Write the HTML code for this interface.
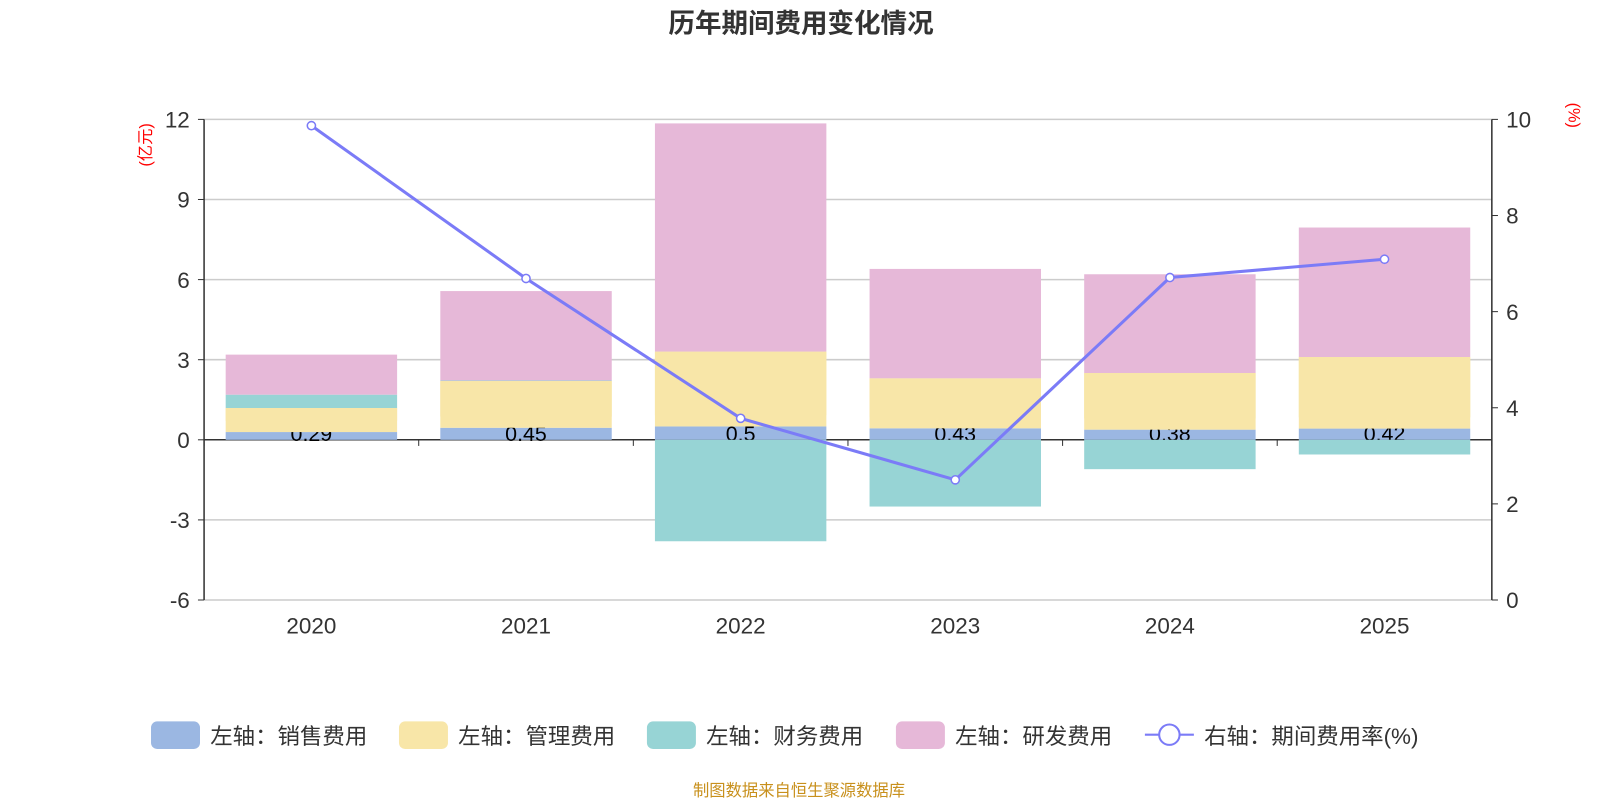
<!DOCTYPE html>
<html><head><meta charset="utf-8"><style>
body{margin:0;background:#fff;}
svg{display:block;font-family:"Liberation Sans","Noto Sans CJK SC",sans-serif;}
</style></head><body>
<svg id="c" width="1600" height="800" viewBox="0 0 1568 784" preserveAspectRatio="none"></svg>
<script>
const categories=["2020","2021","2022","2023","2024","2025"];
const sales=[0.29,0.45,0.5,0.43,0.38,0.42];
const mgmt=[0.9,1.75,2.8,1.87,2.12,2.68];
const finance=[0.5,0.02,-3.8,-2.5,-1.1,-0.55];
const rnd=[1.5,3.35,8.55,4.1,3.7,4.85];
const rate=[9.87,6.69,3.78,2.5,6.71,7.09];
const leftTicks=[-6,-3,0,3,6,9,12];
const rightTicks=[0,2,4,6,8,10];
const NS="http://www.w3.org/2000/svg";
const svg=document.getElementById('c');
const X0=200,X1=1462,YT=117,YB=588;
const yL=v=>YB-(v+6)/18*(YB-YT);
const yR=v=>YB-v/10*(YB-YT);
const bw=(X1-X0)/categories.length;
const xc=i=>X0+bw*(i+0.5);
function el(t,a,txt){const e=document.createElementNS(NS,t);for(const k in a)e.setAttribute(k,a[k]);if(txt!==undefined)e.textContent=txt;svg.appendChild(e);return e;}
let e;
e=el('text',{x:785,y:32,'text-anchor':'middle','font-size':26,'font-weight':'bold',fill:'#333'},'历年期间费用变化情况');

leftTicks.forEach(v=>{
 e=el('line',{x1:X0,x2:X1,y1:yL(v),y2:yL(v),stroke:v===0?'#333':'#ccc','stroke-width':1.5});
 
 e=el('text',{x:X0-14,y:yL(v)+8,'text-anchor':'end','font-size':22,fill:'#333'},String(v));
 
 el('line',{x1:X0-6,x2:X0,y1:yL(v),y2:yL(v),stroke:'#333'});
});
rightTicks.forEach(v=>{
 e=el('text',{x:X1+14,y:yR(v)+8,'font-size':22,fill:'#333'},String(v));
 
 el('line',{x1:X1,x2:X1+6,y1:yR(v),y2:yR(v),stroke:'#333'});
});
el('line',{x1:X0,x2:X0,y1:YT,y2:YB,stroke:'#333','stroke-width':1.5});
el('line',{x1:X1,x2:X1,y1:YT,y2:YB,stroke:'#333','stroke-width':1.5});
for(let i=0;i<=categories.length;i++)el('line',{x1:X0+bw*i,x2:X0+bw*i,y1:yL(0),y2:yL(0)+6,stroke:'#333'});
e=el('text',{x:0,y:0,transform:'translate(148,142) rotate(-90)','text-anchor':'middle','font-size':16,fill:'red'},'(亿元)');

e=el('text',{x:0,y:0,transform:'translate(1537,113) rotate(90)','text-anchor':'middle','font-size':16,fill:'red'},'(%)');

const BW=168;
categories.forEach((c,i)=>{
 e=el('text',{x:xc(i),y:621,'text-anchor':'middle','font-size':22,fill:'#333'},c);
 
 let pos=0,neg=0;
 const series=[[sales,'#9bb7e2','sales'],[mgmt,'#f8e6a8','management'],[finance,'#97d4d5','finance'],[rnd,'#e6b8d8','rnd']];
 series.forEach(([arr,col,nm],k)=>{
  const v=arr[i];let a,b;
  if(v>=0){a=pos;b=pos+v;pos=b;}else{a=neg;b=neg+v;neg=b;}
  const y1=yL(Math.max(a,b)),y2=yL(Math.min(a,b));
  e=el('rect',{x:xc(i)-BW/2,y:y1,width:BW,height:Math.max(0,y2-y1),fill:col});
  
  if(k===0){e=el('text',{x:xc(i),y:yL(0)+1,'text-anchor':'middle','font-size':21,fill:'#000'},String(sales[i]));
   }
 });
});
categories.forEach((c,i)=>{
 const y1=yL(sales[i]+mgmt[i]),y2=yL(sales[i]);
 el('rect',{x:xc(i)-BW/2,y:y1,width:BW,height:Math.max(0,y2-y1-11),fill:'#f8e6a8'});
});
e=el('polyline',{points:rate.map((v,i)=>xc(i)+','+yR(v)).join(' '),fill:'none',stroke:'#7b7bf7','stroke-width':3});

rate.forEach((v,i)=>{e=el('circle',{cx:xc(i),cy:yR(v),r:4,fill:'#fff',stroke:'#7b7bf7','stroke-width':1.5});
 });
const leg=[['左轴：销售费用','#9bb7e2',148],['左轴：管理费用','#f8e6a8',391],['左轴：财务费用','#97d4d5',634],['左轴：研发费用','#e6b8d8',878]];
leg.forEach(([t,col,x])=>{
 e=el('rect',{x:x,y:707,width:48,height:27,rx:6,fill:col});
 
 e=el('text',{x:x+58,y:729,'font-size':22,fill:'#333'},t);
 
});
el('line',{x1:1122,x2:1170,y1:720,y2:720,stroke:'#7b7bf7','stroke-width':2});
el('circle',{cx:1146,cy:720,r:10,fill:'#fff',stroke:'#7b7bf7','stroke-width':2});
e=el('text',{x:1180,y:729,'font-size':22,fill:'#333'},'右轴：期间费用率(%)');

e=el('text',{x:783,y:780,'text-anchor':'middle','font-size':16,fill:'#c8901c'},'制图数据来自恒生聚源数据库');

</script>
</body></html>
